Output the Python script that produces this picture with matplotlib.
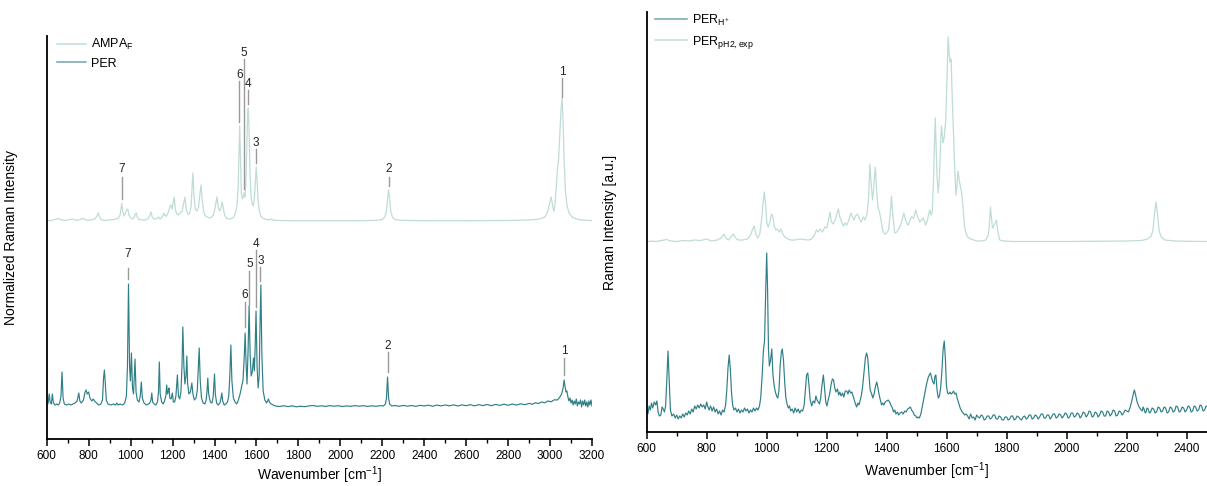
import matplotlib as mpl
mpl.use('Agg')
import matplotlib.pyplot as plt
import numpy as np

plt.rcParams['font.family'] = ['Liberation Sans', 'DejaVu Sans']
plt.rcParams['mathtext.default'] = 'regular'

# ---- left panel: AMPA_F (calc.) and PER (exp.), (wavenumber, intensity) ----
per_pts = [
    (600, 3), (606, 2), (612, 12), (616, 4), (622, 2), (627, 12), (632, 3), (640, 1), (648, 2), (655, 1),
    (662, 3), (668, 10), (673, 34), (678, 8), (684, 2), (695, 1), (705, 2), (715, 1), (725, 2), (735, 3),
    (745, 5), (753, 13), (758, 5), (765, 3), (775, 6), (783, 14), (788, 16), (793, 12), (800, 14), (806, 8),
    (815, 5), (822, 7), (828, 5), (838, 3), (848, 1), (858, 2), (866, 6), (871, 28), (875, 36), (879, 24),
    (884, 6), (892, 2), (905, 1), (918, 2), (928, 1), (934, 3), (940, 1), (950, 2), (962, 1), (972, 3),
    (980, 10), (985, 40), (990, 122), (995, 40), (999, 25), (1004, 53), (1009, 18), (1014, 12), (1021, 47),
    (1026, 14), (1032, 6), (1040, 4), (1046, 10), (1051, 24), (1056, 8), (1064, 3), (1075, 1), (1085, 2),
    (1092, 3), (1097, 6), (1101, 13), (1105, 4), (1112, 2), (1120, 1), (1128, 4), (1133, 14), (1137, 44),
    (1141, 12), (1148, 4), (1156, 2), (1163, 6), (1168, 10), (1172, 21), (1176, 12), (1180, 15), (1183, 18),
    (1187, 8), (1193, 7), (1199, 13), (1204, 4), (1210, 4), (1216, 10), (1223, 31), (1228, 10), (1234, 7),
    (1240, 14), (1245, 40), (1249, 79), (1254, 40), (1259, 22), (1264, 30), (1268, 50), (1272, 22),
    (1278, 12), (1285, 14), (1292, 23), (1297, 12), (1304, 6), (1312, 8), (1318, 16), (1323, 40), (1327, 58),
    (1332, 25), (1338, 8), (1346, 3), (1354, 2), (1360, 6), (1364, 14), (1368, 28), (1372, 12), (1380, 4),
    (1388, 3), (1394, 10), (1400, 32), (1404, 12), (1410, 3), (1418, 1), (1426, 3), (1431, 8), (1435, 13),
    (1439, 5), (1446, 1), (1454, 2), (1462, 4), (1468, 10), (1473, 30), (1478, 61), (1483, 25), (1490, 8),
    (1498, 4), (1506, 2), (1514, 6), (1522, 12), (1530, 20), (1536, 26), (1542, 50), (1546, 73), (1551, 40),
    (1555, 22), (1560, 55), (1565, 100), (1570, 50), (1575, 30), (1580, 34), (1586, 48), (1590, 35),
    (1594, 60), (1598, 95), (1603, 40), (1608, 18), (1613, 30), (1617, 80), (1621, 121), (1626, 50),
    (1632, 15), (1640, 6), (1648, 3), (1653, 5), (1657, 7), (1662, 4), (1670, 2), (1680, 1),
    (1690, 0), (1710, -0.5), (1730, 0.3), (1750, -0.6), (1770, 0.2), (1790, -0.8), (1810, -0.2), (1830, -0.7),
    (1850, 0.1), (1870, 0.5), (1890, -0.3), (1910, 0.2), (1930, -0.4), (1950, 0.4), (1970, -0.2), (1990, 0.3),
    (2010, -0.5), (2030, 0.1), (2050, -0.3), (2070, 0.4), (2090, -0.2), (2110, 0.3), (2130, -0.4), (2150, 0.2),
    (2170, -0.3), (2190, 0.4), (2205, 0), (2215, 2), (2220, 8), (2225, 29), (2230, 8), (2235, 2), (2245, 0),
    (2260, 0.5), (2280, -0.3), (2300, 0.6), (2320, -0.2), (2340, 0.5), (2360, -0.4), (2380, 0.7), (2400, 0),
    (2420, 0.8), (2440, -0.3), (2460, 0.9), (2480, 0.1), (2500, 1.0), (2520, 0.2), (2540, 1.1), (2560, 0.0),
    (2580, 1.2), (2600, 0.3), (2620, 1.3), (2640, 0.1), (2660, 1.4), (2680, 0.4), (2700, 1.5), (2720, 0.3),
    (2740, 1.6), (2760, 0.6), (2780, 1.8), (2800, 0.7), (2820, 2.0), (2840, 0.9), (2860, 2.2), (2880, 1.3),
    (2900, 2.6), (2915, 1.8), (2930, 3.2), (2945, 2.5), (2960, 4.0), (2975, 3.2), (2990, 5.0), (3005, 4.2),
    (3020, 6.2), (3035, 6.0), (3045, 8.5), (3055, 12), (3062, 18), (3067, 26), (3071, 20), (3076, 14),
    (3080, 15), (3085, 9), (3090, 5), (3095, 8), (3100, 3), (3105, 6), (3110, 1), (3115, 5), (3120, 2),
    (3125, 7), (3130, 0), (3135, 4), (3140, 2), (3145, 6), (3150, -1), (3155, 5), (3160, 1), (3165, 6),
    (3170, 0), (3175, 4), (3180, -1), (3185, 5), (3190, 1), (3195, 6), (3200, 0),
]

ampa_pts = [
    (600, 0.5), (620, 0.3), (640, 1.5), (655, 2.5), (670, 1), (690, 0.5), (710, 1.5), (725, 2), (740, 0.5),
    (760, 1.5), (775, 2.5), (790, 0.8), (810, 1), (830, 2), (840, 5), (846, 8), (852, 4), (862, 1), (880, 0.5),
    (900, 1), (920, 1.5), (940, 2.5), (950, 6), (955, 14), (958, 18), (962, 10), (968, 5), (975, 8), (981, 11),
    (987, 12), (992, 6), (1000, 3), (1010, 2), (1018, 4), (1023, 7), (1027, 8), (1032, 4), (1040, 1.5),
    (1055, 1), (1070, 1), (1082, 2), (1090, 5), (1097, 9), (1103, 4), (1112, 2), (1120, 2), (1127, 3),
    (1133, 4), (1139, 2), (1148, 3), (1155, 6), (1160, 8), (1165, 5), (1172, 5), (1180, 9), (1187, 14),
    (1192, 16), (1197, 12), (1203, 18), (1208, 24), (1213, 12), (1220, 7), (1228, 6), (1236, 8), (1246, 10),
    (1253, 18), (1259, 24), (1264, 13), (1272, 7), (1280, 7), (1288, 14), (1293, 32), (1297, 48), (1302, 26),
    (1308, 12), (1316, 10), (1324, 14), (1330, 26), (1336, 36), (1341, 22), (1348, 10), (1356, 5), (1366, 4),
    (1376, 3), (1386, 4), (1395, 6), (1402, 12), (1408, 20), (1412, 24), (1417, 14), (1424, 10), (1430, 12),
    (1436, 19), (1441, 14), (1448, 6), (1456, 3), (1465, 2), (1475, 2), (1485, 3), (1492, 4), (1500, 8),
    (1507, 15), (1513, 35), (1517, 70), (1520, 95), (1524, 60), (1528, 28), (1533, 22), (1538, 25),
    (1541, 28), (1545, 24), (1549, 35), (1554, 75), (1558, 105), (1561, 113), (1565, 90), (1569, 50),
    (1574, 25), (1580, 17), (1585, 15), (1590, 22), (1595, 40), (1599, 54), (1603, 40), (1608, 20),
    (1614, 10), (1620, 5), (1630, 3), (1645, 1.5), (1660, 1), (1672, 2), (1680, 0.8), (1700, 0.5),
    (1750, 0.3), (1800, 0.2), (1900, 0.2), (2000, 0.2), (2100, 0.3), (2170, 0.6), (2200, 1.5), (2212, 4),
    (2220, 10), (2226, 24), (2230, 31), (2234, 24), (2240, 10), (2248, 4), (2260, 1.5), (2290, 0.6),
    (2400, 0.3), (2600, 0.3), (2800, 0.5), (2900, 1), (2950, 2), (2975, 4), (2990, 10), (2998, 18),
    (3005, 24), (3010, 18), (3015, 12), (3019, 10), (3024, 18), (3030, 36), (3034, 49), (3040, 60),
    (3046, 85), (3052, 110), (3057, 123), (3062, 100), (3067, 60), (3073, 30), (3080, 16), (3090, 8),
    (3105, 4), (3125, 2), (3150, 1), (3180, 0.6), (3200, 0.4),
]

# peak labels: number, wavenumber, text height, line from, line to
per_labels = [
    ('7', 988, 152, 138, 127), ('6', 1546, 111, 104, 79), ('5', 1566, 142, 135, 101),
    ('4', 1597, 162, 156, 99), ('3', 1619, 145, 139, 125), ('2', 2225, 60, 54, 34),
    ('1', 3067, 55, 48, 31),
]
ampa_labels = [
    ('7', 958, 237, 229, 207), ('6', 1519, 331, 325, 284), ('5', 1539, 353, 347, 217),
    ('4', 1560, 322, 316, 302), ('3', 1599, 263, 257, 243), ('2', 2230, 237, 229, 220),
    ('1', 3057, 334, 328, 309),
]

# ---- right panel: PER_H+ and PER_pH2,exp ----
perh_pts = [
    (600, 10), (604, 6), (608, 14), (612, 10), (616, 17), (620, 12), (625, 18), (630, 15), (634, 19), (638, 8),
    (642, 4), (647, 5), (651, 13), (655, 11), (659, 8), (663, 14), (667, 40), (671, 69), (675, 40), (679, 10),
    (684, 4), (690, 6), (695, 2), (700, 5), (705, 1), (710, 4), (715, 2), (720, 6), (725, 3), (730, 7),
    (735, 5), (740, 9), (745, 6), (750, 11), (755, 8), (760, 14), (765, 11), (770, 15), (775, 12), (780, 16),
    (785, 13), (790, 15), (795, 11), (800, 18), (803, 14), (808, 10), (813, 14), (818, 9), (823, 13), (828, 8),
    (833, 11), (838, 6), (843, 9), (848, 5), (853, 10), (858, 8), (863, 15), (867, 30), (871, 52), (875, 65),
    (879, 50), (883, 26), (887, 14), (891, 10), (896, 12), (901, 8), (906, 11), (911, 7), (916, 10), (921, 8),
    (926, 12), (931, 9), (936, 11), (941, 7), (946, 10), (951, 8), (956, 12), (961, 9), (966, 12), (971, 10),
    (976, 14), (980, 22), (985, 45), (989, 69), (993, 80), (996, 120), (1000, 167), (1003, 130), (1006, 70),
    (1009, 54), (1013, 60), (1017, 71), (1021, 45), (1025, 34), (1029, 28), (1033, 24), (1037, 22), (1041, 30),
    (1045, 55), (1049, 68), (1052, 71), (1056, 60), (1060, 38), (1064, 22), (1068, 16), (1072, 12), (1076, 14),
    (1080, 9), (1085, 11), (1090, 7), (1095, 12), (1100, 8), (1105, 11), (1110, 7), (1115, 10), (1120, 9),
    (1125, 15), (1129, 30), (1133, 45), (1137, 47), (1141, 35), (1145, 20), (1150, 14), (1155, 19), (1160, 17),
    (1164, 24), (1168, 20), (1172, 18), (1176, 16), (1180, 22), (1184, 34), (1189, 45), (1193, 32), (1197, 18),
    (1201, 14), (1205, 20), (1210, 26), (1215, 36), (1219, 41), (1223, 40), (1227, 32), (1231, 28), (1236, 31),
    (1240, 25), (1244, 28), (1248, 24), (1253, 27), (1257, 23), (1262, 29), (1267, 29), (1271, 26), (1275, 30),
    (1280, 27), (1284, 28), (1288, 24), (1292, 20), (1296, 16), (1300, 13), (1304, 17), (1308, 15), (1312, 20),
    (1316, 25), (1320, 34), (1325, 50), (1329, 62), (1333, 67), (1337, 62), (1341, 45), (1345, 30), (1350, 26),
    (1354, 22), (1358, 26), (1363, 34), (1367, 38), (1371, 32), (1375, 25), (1379, 20), (1383, 15), (1387, 17),
    (1391, 15), (1395, 18), (1400, 19), (1405, 20), (1410, 18), (1414, 15), (1419, 12), (1423, 8), (1427, 10),
    (1431, 6), (1436, 8), (1440, 5), (1445, 7), (1450, 8), (1455, 6), (1460, 9), (1465, 8), (1470, 11),
    (1475, 12), (1479, 13), (1483, 10), (1488, 8), (1492, 5), (1497, 4), (1501, 2), (1505, 3), (1509, 2),
    (1514, 6), (1518, 12), (1523, 20), (1528, 28), (1533, 36), (1538, 42), (1542, 45), (1546, 47), (1550, 42),
    (1554, 38), (1558, 36), (1561, 44), (1564, 45), (1568, 30), (1572, 22), (1576, 24), (1580, 32), (1584, 48),
    (1588, 70), (1592, 79), (1596, 60), (1599, 35), (1603, 27), (1607, 26), (1611, 28), (1615, 26), (1619, 27),
    (1623, 29), (1627, 26), (1631, 27), (1635, 22), (1640, 17), (1645, 12), (1650, 9), (1655, 7), (1660, 5),
    (1665, 6), (1670, 4), (1675, 1), (1680, 6), (1685, 2), (1690, 3), (1695, 0), (1700, 5), (1705, 3),
    (1710, 2), (1715, 5), (1720, 4), (1725, 0), (1730, 1), (1735, 4), (1740, 4), (1745, 1), (1750, 2),
    (1755, 5), (1760, 5), (1765, 1), (1770, 1), (1775, 4), (1780, 3), (1785, 0), (1790, 0), (1795, 3),
    (1800, 3), (1805, 0), (1810, 1), (1815, 4), (1820, 4), (1825, 0), (1830, 1), (1835, 4), (1840, 3),
    (1845, 1), (1850, 0), (1855, 3), (1860, 4), (1865, 1), (1870, 2), (1875, 5), (1880, 5), (1885, 1),
    (1890, 2), (1895, 5), (1900, 4), (1905, 1), (1910, 3), (1915, 6), (1920, 6), (1925, 2), (1930, 2),
    (1935, 5), (1940, 5), (1945, 1), (1950, 3), (1955, 6), (1960, 6), (1965, 2), (1970, 3), (1975, 6),
    (1980, 5), (1985, 2), (1990, 4), (1995, 7), (2000, 6), (2005, 2), (2010, 3), (2015, 7), (2020, 7),
    (2025, 3), (2030, 4), (2035, 7), (2040, 6), (2045, 2), (2050, 4), (2055, 8), (2060, 7), (2065, 3),
    (2070, 5), (2075, 9), (2080, 8), (2085, 3), (2090, 4), (2095, 8), (2100, 7), (2105, 3), (2110, 5),
    (2115, 9), (2120, 8), (2125, 4), (2130, 4), (2135, 9), (2140, 8), (2145, 4), (2150, 6), (2155, 10),
    (2160, 9), (2165, 4), (2170, 5), (2175, 9), (2180, 8), (2185, 5), (2190, 7), (2195, 10), (2200, 9),
    (2206, 8), (2212, 13), (2218, 20), (2223, 27), (2226, 30), (2230, 25), (2235, 18), (2240, 14),
    (2246, 11), (2252, 9), (2255, 13), (2258, 11), (2262, 7), (2265, 8), (2268, 12), (2272, 11), (2276, 7),
    (2280, 8), (2285, 12), (2290, 11), (2295, 7), (2300, 8), (2305, 13), (2310, 12), (2315, 8), (2320, 9),
    (2325, 13), (2330, 12), (2335, 7), (2340, 8), (2345, 13), (2350, 12), (2355, 8), (2360, 9), (2365, 14),
    (2370, 13), (2375, 8), (2380, 9), (2385, 13), (2390, 12), (2395, 8), (2400, 10), (2405, 14), (2410, 13),
    (2415, 8), (2420, 9), (2425, 14), (2430, 13), (2435, 9), (2440, 10), (2445, 15), (2450, 14),
    (2455, 9), (2460, 10), (2465, 14), (2470, 13),
]

perexp_pts = [
    (600, 0), (615, 1), (630, 0.5), (650, 1.5), (666, 2.5), (680, 1), (700, 0.5), (720, 1.5), (740, 1),
    (760, 2), (780, 1.5), (800, 3), (815, 1), (835, 2), (848, 4), (857, 8), (864, 4), (872, 2), (881, 5),
    (889, 8), (896, 4), (905, 2), (920, 2), (935, 3), (945, 6), (952, 12), (958, 16), (964, 8), (970, 4),
    (977, 8), (984, 25), (988, 40), (992, 50), (997, 35), (1001, 18), (1005, 15), (1011, 20), (1016, 28),
    (1020, 26), (1025, 16), (1030, 12), (1035, 13), (1041, 10), (1047, 13), (1052, 9), (1060, 5), (1070, 3),
    (1080, 2), (1095, 2), (1110, 3), (1125, 2.5), (1140, 2), (1150, 3), (1158, 6), (1166, 12), (1172, 10),
    (1178, 13), (1186, 10), (1194, 15), (1200, 14), (1205, 20), (1211, 30), (1216, 20), (1222, 18),
    (1228, 22), (1234, 28), (1239, 33), (1244, 25), (1250, 20), (1256, 16), (1261, 19), (1267, 17),
    (1274, 22), (1281, 29), (1286, 25), (1291, 22), (1296, 26), (1302, 28), (1308, 24), (1315, 20),
    (1322, 25), (1328, 22), (1335, 29), (1340, 45), (1344, 78), (1349, 55), (1353, 42), (1357, 55),
    (1362, 75), (1367, 50), (1371, 35), (1376, 30), (1381, 22), (1388, 10), (1394, 8), (1400, 9),
    (1406, 12), (1411, 25), (1416, 46), (1421, 25), (1427, 9), (1434, 10), (1442, 14), (1450, 20),
    (1457, 29), (1463, 22), (1468, 18), (1472, 17), (1478, 22), (1483, 25), (1490, 24), (1497, 32),
    (1503, 25), (1511, 20), (1516, 22), (1522, 24), (1527, 20), (1530, 17), (1536, 22), (1540, 28),
    (1544, 32), (1548, 27), (1552, 30), (1556, 60), (1559, 95), (1562, 124), (1565, 95), (1568, 65),
    (1572, 49), (1576, 65), (1580, 100), (1583, 116), (1588, 99), (1592, 105), (1597, 122), (1601, 165),
    (1605, 205), (1608, 190), (1611, 180), (1615, 183), (1618, 150), (1622, 115), (1626, 80), (1631, 47),
    (1634, 55), (1638, 71), (1643, 60), (1650, 49), (1656, 30), (1660, 15), (1664, 9), (1670, 5),
    (1680, 3), (1690, 2), (1700, 1), (1715, 1), (1730, 2), (1738, 6), (1742, 15), (1746, 35), (1750, 22),
    (1753, 14), (1755, 15), (1760, 18), (1766, 22), (1771, 10), (1777, 2), (1790, 1), (1820, 0.5),
    (1900, 0.5), (2000, 0.5), (2100, 0.7), (2200, 1), (2250, 1.5), (2270, 3), (2282, 6), (2288, 12),
    (2293, 28), (2298, 40), (2303, 28), (2308, 12), (2315, 5), (2328, 2), (2360, 1), (2400, 0.7),
    (2470, 0.5),
]

# offsets used to stack the spectra
ampa_offset = 185
perexp_offset = 178

dark_teal = '#2f7f87'
light_teal = '#bfdcd7'

fig = plt.figure(figsize=(12.07, 4.86), dpi=100)
ax1 = fig.add_axes([0.0387, 0.0967, 0.4518, 0.8293])
ax2 = fig.add_axes([0.5358, 0.1111, 0.4642, 0.8642])

wn, inten = np.array(ampa_pts).T
ax1.plot(wn, inten + ampa_offset, color=light_teal, lw=0.9, label='AMPA$_{F}$')
wn, inten = np.array(per_pts).T
ax1.plot(wn, inten, color=dark_teal, lw=0.85, label='PER')

for lbls in (per_labels, ampa_labels):
    for num, x, ty, y0, y1 in lbls:
        ax1.plot([x, x], [y0, y1], color='#9a9a9a', lw=1.0)
        ax1.text(x, ty, num, ha='center', va='center', fontsize=8.5, color='#222222')

ax1.set_xlim(600, 3200)
ax1.set_ylim(-33, 370)
ax1.set_xticks(np.arange(600, 3201, 200))
ax1.set_xticks(np.arange(700, 3200, 200), minor=True)
ax1.set_xlabel('Wavenumber [cm$^{-1}$]', fontsize=10, labelpad=2)
ax1.set_ylabel('Normalized Raman Intensity', fontsize=10)
ax1.yaxis.set_label_coords(-0.053, 0.5)
leg1 = ax1.legend(loc='upper left', bbox_to_anchor=(0.01, 1.01), frameon=False, fontsize=9,
                  handlelength=2.3, handletextpad=0.4, labelspacing=0.45, borderaxespad=0)

wn, inten = np.array(perh_pts).T
ax2.plot(wn, inten, color=dark_teal, lw=0.85, label='PER$_{H^{+}}$')
wn, inten = np.array(perexp_pts).T
ax2.plot(wn, inten + perexp_offset, color=light_teal, lw=0.9, label='PER$_{pH2,exp}$')
ax2.set_xlim(600, 2468)
ax2.set_ylim(-12, 408)
ax2.set_xticks(np.arange(600, 2401, 200))
ax2.set_xticks(np.arange(700, 2468, 200), minor=True)
ax2.set_xlabel('Wavenumber [cm$^{-1}$]', fontsize=10)
ax2.set_ylabel('Raman Intensity [a.u.]', fontsize=10)
ax2.yaxis.set_label_coords(-0.053, 0.5)
leg2 = ax2.legend(loc='upper left', bbox_to_anchor=(0.005, 1.01), frameon=False, fontsize=9,
                  handlelength=2.6, handletextpad=0.4, labelspacing=0.45, borderaxespad=0)

# legend handles look lighter than the dense spectra in the original
for leg in (leg1, leg2):
    for h in leg.get_lines():
        if h.get_color() == dark_teal:
            h.set_color('#6fa6ae')
        h.set_linewidth(1.1)

for ax in (ax1, ax2):
    ax.spines['top'].set_visible(False)
    ax.spines['right'].set_visible(False)
    ax.spines['left'].set_linewidth(1.3)
    ax.spines['bottom'].set_linewidth(1.3)
    ax.set_yticks([])
    ax.tick_params(axis='x', which='major', direction='out', length=5, width=1.1, labelsize=8.5, pad=3)
    ax.tick_params(axis='x', which='minor', direction='out', length=3, width=1.0)

fig.savefig('out.png', dpi=100)
